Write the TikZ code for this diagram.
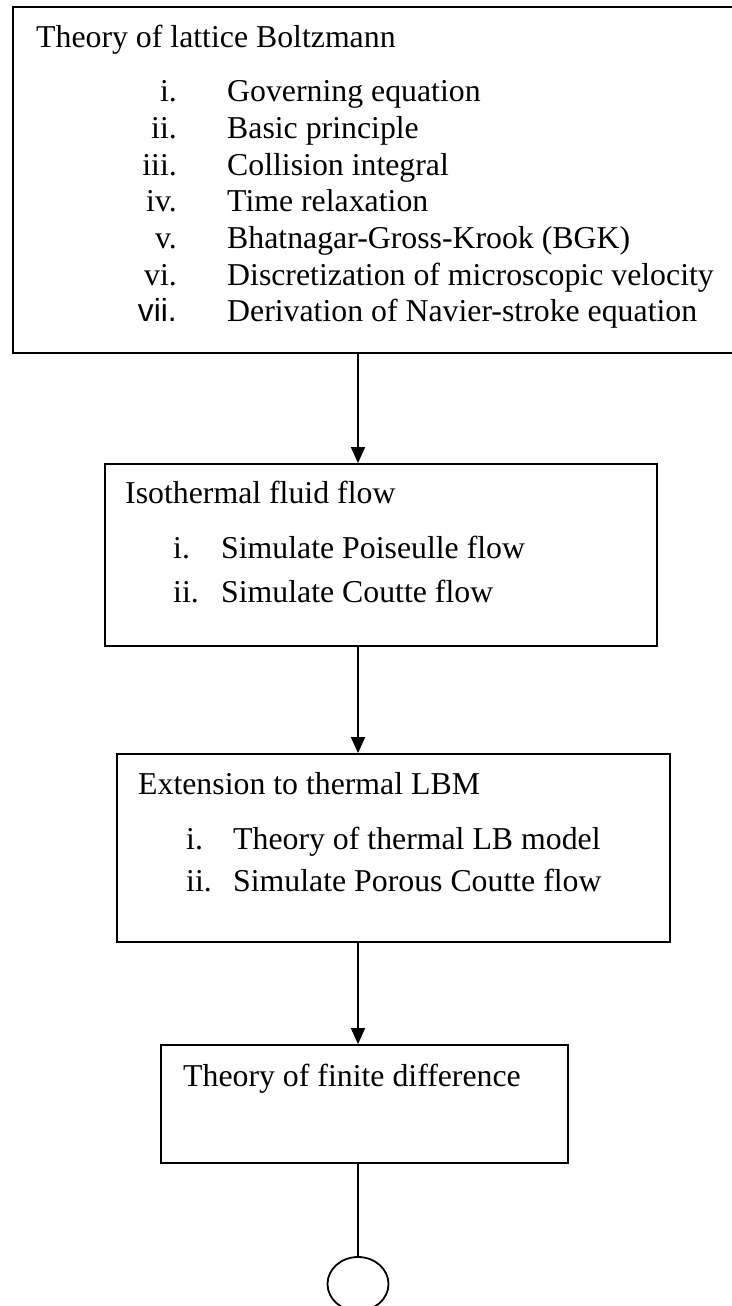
\documentclass[tikz,border=0pt]{standalone}
\usepackage{fontspec}
\setmainfont{Liberation Serif}
\newfontfamily\arialfont{Liberation Sans}
\usetikzlibrary{arrows.meta,shapes.geometric}
\begin{document}
\begin{tikzpicture}[x=1pt,y=-1pt,
  box/.style={draw, rectangle, inner sep=0pt, line width=1.8pt},
  txt/.style={inner sep=0pt, anchor=base west, font=\fontsize{31.8}{38}\selectfont},
  numr/.style={inner sep=0pt, anchor=base east, font=\fontsize{31.8}{38}\selectfont},
  arr/.style={-{Triangle[length=16pt,width=14pt]}, line width=1.8pt},
  conn/.style={line width=1.8pt}]
\useasboundingbox (0,0) rectangle (731,1306);

% boxes
\node[box, minimum width=727pt, minimum height=346pt] (b1) at (376.5,180) {};
\node[box, minimum width=552pt, minimum height=182pt] (b2) at (381,555) {};
\node[box, minimum width=553pt, minimum height=188pt] (b3) at (393.5,848) {};
\node[box, minimum width=407pt, minimum height=118pt] (b4) at (364.5,1104) {};
\node[draw, ellipse, line width=1.8pt, inner sep=0pt, minimum width=61pt, minimum height=54pt] (end) at (358,1284) {};

% box 1 text
\node[txt] (t1) at (36,48) {Theory of lattice Boltzmann};
\node[numr] (n11) at (177,101.7) {i.};
\node[numr] (n12) at (177,138.3) {ii.};
\node[numr] (n13) at (177,175) {iii.};
\node[numr] (n14) at (177,211.7) {iv.};
\node[numr] (n15) at (177,248.3) {v.};
\node[numr] (n16) at (177,285) {vi.};
\node[numr, font=\fontsize{31.8}{38}\arialfont] (n17) at (177,321.7) {vii.};
\node[txt] (i11) at (227,101.7) {Governing equation};
\node[txt] (i12) at (227,138.3) {Basic principle};
\node[txt] (i13) at (227,175) {Collision integral};
\node[txt] (i14) at (227,211.7) {Time relaxation};
\node[txt] (i15) at (227,248.3) {Bhatnagar-Gross-Krook (BGK)};
\node[txt] (i16) at (227,285) {Discretization of microscopic velocity};
\node[txt] (i17) at (227,321.7) {Derivation of Navier-stroke equation};

% box 2 text
\node[txt] (t2) at (125,503) {Isothermal fluid flow};
\node[txt] (n21) at (173,558) {i.};
\node[txt] (n22) at (173,602) {ii.};
\node[txt] (i21) at (221,558) {Simulate Poiseulle flow};
\node[txt] (i22) at (221,602) {Simulate Coutte flow};

% box 3 text
\node[txt] (t3) at (138,794) {Extension to thermal LBM};
\node[txt] (n31) at (186,849) {i.};
\node[txt] (n32) at (186,891) {ii.};
\node[txt] (i31) at (233,849) {Theory of thermal LB model};
\node[txt] (i32) at (233,891) {Simulate Porous Coutte flow};

% box 4 text
\node[txt] (t4) at (183,1086) {Theory of finite difference};

% connectors
\draw[arr] (b1.south -| end.center) -- (b2.north -| end.center);
\draw[arr] (b2.south -| end.center) -- (b3.north -| end.center);
\draw[arr] (b3.south -| end.center) -- (b4.north -| end.center);
\draw[conn] (b4.south -| end.center) -- (end.north);
\end{tikzpicture}
\end{document}
